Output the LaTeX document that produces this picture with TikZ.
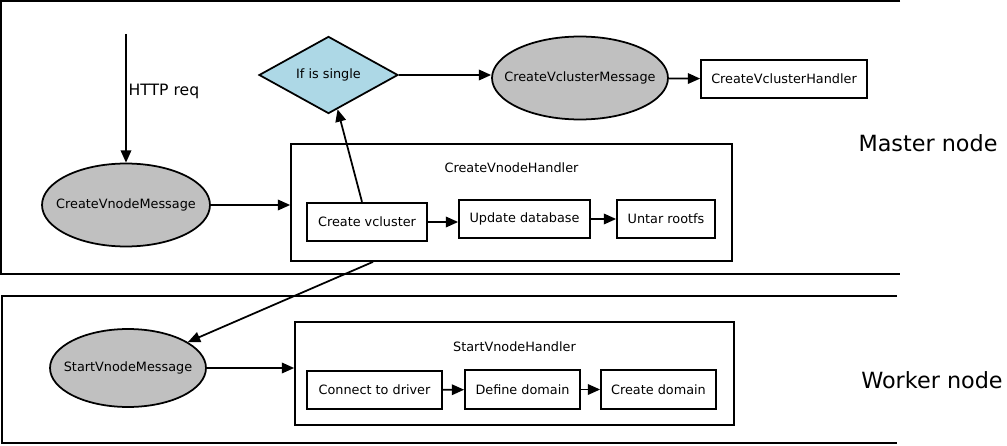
\documentclass[tikz,border=0pt]{standalone}
\usepackage{fontspec}
\setmainfont{DejaVu Sans}
\usetikzlibrary{arrows.meta,positioning,shapes.geometric}
\definecolor{msggray}{HTML}{C0C0C0}
\definecolor{decblue}{HTML}{ADD8E6}

\tikzset{
  base/.style={draw=black, line width=1pt, font=\fontsize{7.3}{9}\selectfont},
  msgnode/.style={base, ellipse, fill=msggray, inner sep=0pt,
    label={[font=\fontsize{7.3}{9}\selectfont]center:#1}},
  stepbox/.style={base, rectangle, inner sep=0pt, minimum height=0.77cm},
  decision/.style={base, diamond, fill=decblue, inner sep=0pt, minimum width=2.78cm, minimum height=1.52cm},
  handler/.style={draw=black, line width=1pt, rectangle, inner sep=0pt},
  arr/.style={line width=1pt, -{Triangle[length=7pt,width=6pt]}},
  zonelbl/.style={font=\fontsize{12.7}{15}\selectfont}
}

\begin{document}
\begin{tikzpicture}[x=0.02cm,y=-0.02cm]
  \useasboundingbox (0,0) rectangle (1007,446);

  % zones
  \draw[line width=1pt] (900,1) -| (1,274) -- (900,274);
  \draw[line width=1pt] (897,296) -| (2,443) -- (897,443);
  \node[zonelbl] (master) at (928,143) {Master node};
  \node[zonelbl] (worker) at (932,380) {Worker node};

  % master side
  \coordinate (httpin) at (126,34);
  \node[msgnode=CreateVnodeMessage, minimum width=3.36cm, minimum height=1.66cm] (cvm) at (126,205) {};
  \node[handler, minimum width=8.82cm, minimum height=2.34cm] (cvh) at (511.5,202.5) {};
  \node[base, draw=none, below=0.26cm of cvh.north] (cvhlbl) {CreateVnodeHandler};
  \node[stepbox, minimum width=2.4cm] (cvc) at (367,222) {Create vcluster};
  \node[stepbox, minimum width=2.62cm] (udb) at (524.5,219) {Update database};
  \node[stepbox, minimum width=1.96cm] (utr) at (666,219) {Untar rootfs};
  \node[decision] (single) at (328.5,75) {If is single};
  \node[msgnode=CreateVclusterMessage, minimum width=3.52cm, minimum height=1.66cm] (cvcm) at (580,78) {};
  \node[stepbox, minimum width=3.32cm] (cvch) at (784,79) {CreateVclusterHandler};

  % worker side
  \node[msgnode=StartVnodeMessage, minimum width=3.12cm, minimum height=1.56cm] (svm) at (128,368) {};
  \node[handler, minimum width=8.78cm, minimum height=2.06cm] (svh) at (514.5,373.5) {};
  \node[base, draw=none, below=0.28cm of svh.north] (svhlbl) {StartVnodeHandler};
  \node[stepbox, minimum width=2.7cm] (ctd) at (374.5,390) {Connect to driver};
  \node[stepbox, minimum width=2.3cm] (dfd) at (522.5,389.5) {Define domain};
  \node[stepbox, minimum width=2.3cm] (crd) at (658.5,389.5) {Create domain};

  % connectors
  \draw[arr] (httpin) -- node[right, pos=0.45, inner sep=1pt, font=\fontsize{8.9}{11}\selectfont] (httplbl) {HTTP req} (cvm);
  \draw[arr] (cvm.east) -- (cvm.east -| cvh.west);
  \draw[arr] (cvc) -- (udb.west |- cvc);
  \draw[arr] (udb) -- (utr);
  \draw[arr] ([xshift=-0.1cm]cvc.north) -- (single);
  \draw[arr] (single.east) -- (single.east -| cvcm.west);
  \draw[arr] (cvcm) -- (cvch);
  \draw[arr] ([xshift=-2.77cm]cvh.south) -- (svm);
  \draw[arr] (svm.east) -- (svm.east -| svh.west);
  \draw[arr] (ctd) -- (dfd);
  \draw[arr] (dfd) -- (crd);
\end{tikzpicture}
\end{document}
